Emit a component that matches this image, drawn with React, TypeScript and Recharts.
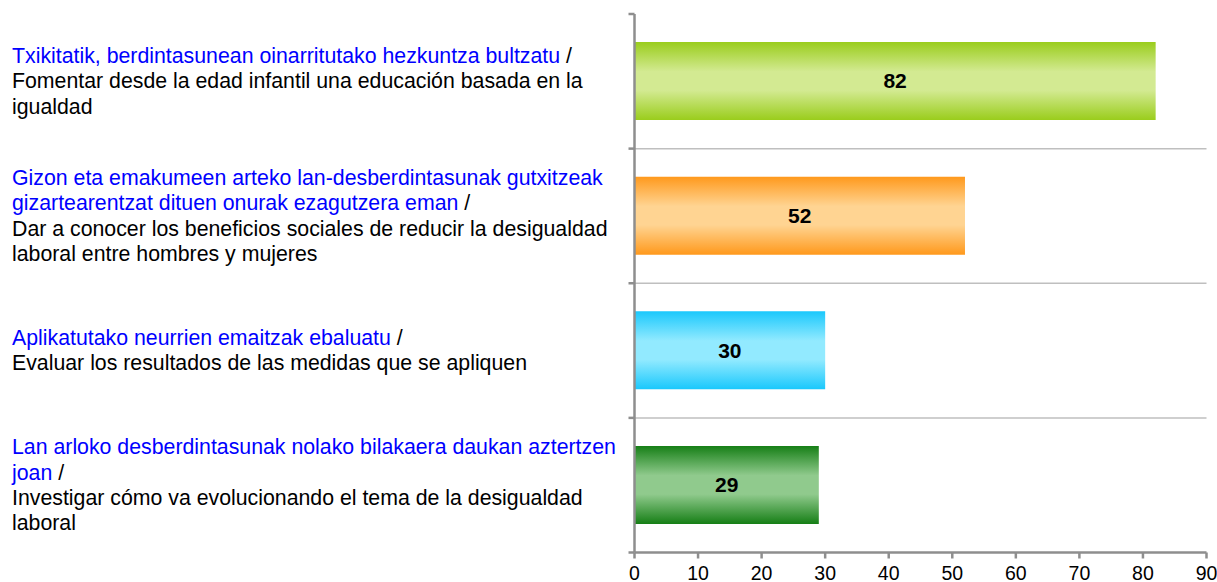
import React from 'react';
import { BarChart, Bar, XAxis, YAxis, CartesianGrid, Cell, LabelList } from 'recharts';

const categories = ['c1', 'c2', 'c3', 'c4'];
const values = [82, 52, 30, 29];
const basqueLines: string[][] = [
  ['Txikitatik, berdintasunean oinarritutako hezkuntza bultzatu'],
  ['Gizon eta emakumeen arteko lan-desberdintasunak gutxitzeak', 'gizartearentzat dituen onurak ezagutzera eman'],
  ['Aplikatutako neurrien emaitzak ebaluatu'],
  ['Lan arloko desberdintasunak nolako bilakaera daukan aztertzen', 'joan'],
];
const spanishLines: string[][] = [
  ['Fomentar desde la edad infantil una educación basada en la', 'igualdad'],
  ['Dar a conocer los beneficios sociales de reducir la desigualdad', 'laboral entre hombres y mujeres'],
  ['Evaluar los resultados de las medidas que se apliquen'],
  ['Investigar cómo va evolucionando el tema de la desigualdad', 'laboral'],
];
const xTicks = [0, 10, 20, 30, 40, 50, 60, 70, 80, 90];
const edgeColors = ['#9acd1c', '#ff991c', '#1ac8fc', '#167f16'];
const midColors = ['#d3ea92', '#ffd492', '#92eaff', '#90ca8d'];

const data = categories.map((c, i) => ({ name: c, value: values[i] }));

const FONT = '"Liberation Sans", Arial, sans-serif';
const AXIS = '#8e8e8e';

const CategoryTick = (props: any) => {
  const { x, y, payload } = props;
  const half = payload && payload.offset ? payload.offset : 67;
  const i = categories.indexOf(payload.value);
  const lines: { text: string; blue: boolean; slash: boolean }[] = [];
  const b = basqueLines[i] || [];
  b.forEach((t, k) => lines.push({ text: t, blue: true, slash: k === b.length - 1 }));
  (spanishLines[i] || []).forEach((t) => lines.push({ text: t, blue: false, slash: false }));
  const lh = 25.3;
  const startY = y - ((lines.length - 1) * lh) / 2 + 7;
  const isLast = i === categories.length - 1;
  return (
    <g>
      <line x1={x - 6} x2={x} y1={y - half} y2={y - half} stroke={AXIS} strokeWidth={2.5} />
      {isLast && <line x1={x - 6} x2={x} y1={y + half} y2={y + half} stroke={AXIS} strokeWidth={2.5} />}
      {lines.map((l, k) => (
        <text key={k} x={4} y={startY + k * lh} fontSize={21.3} fontFamily={FONT} fill="#000" textAnchor="start">
          <tspan fill={l.blue ? '#0000ff' : '#000'}>{l.text}</tspan>
          {l.slash && <tspan fill="#000"> /</tspan>}
        </text>
      ))}
    </g>
  );
};

const gridGen = (args: any) => {
  const { yAxis, offset } = args || {};
  try {
    if (yAxis && yAxis.scale && typeof yAxis.scale === 'function') {
      const pts = categories.slice(1).map((c) => yAxis.scale(c));
      if (pts.every((p: any) => typeof p === 'number' && !isNaN(p))) return pts;
    }
  } catch (e) {}
  const h = offset.height / categories.length;
  return categories.slice(1).map((_, k) => offset.top + (k + 1) * h);
};

export default function App() {
  return (
    <div
      style={{
        width: 1217,
        height: 582,
        padding: '8px 0 0 8px',
        boxSizing: 'border-box',
        overflow: 'visible',
        background: '#fff',
      }}
    >
      <style>{`body { margin: 0; } svg.recharts-surface { overflow: visible !important; } .recharts-wrapper { overflow: visible !important; } html, body { overflow: hidden; }`}</style>
      <BarChart
        width={1209}
        height={574}
        data={data}
        layout="vertical"
        margin={{ top: 6, right: 10.5, bottom: 0, left: 0 }}
        style={{ fontFamily: FONT, overflow: 'visible' }}
      >
        <defs>
          {categories.map((c, i) => (
            <linearGradient key={c} id={`grad-${i}`} x1="0" y1="0" x2="0" y2="1">
              <stop offset="0%" stopColor={edgeColors[i]} />
              <stop offset="38%" stopColor={midColors[i]} />
              <stop offset="62%" stopColor={midColors[i]} />
              <stop offset="100%" stopColor={edgeColors[i]} />
            </linearGradient>
          ))}
        </defs>
        <CartesianGrid
          vertical={false}
          horizontal={true}
          stroke="#bfbfbf"
          strokeWidth={1.5}
          horizontalCoordinatesGenerator={gridGen}
        />
        <XAxis
          type="number"
          domain={[0, 90]}
          ticks={xTicks}
          interval={0}
          height={29.5}
          tickSize={6}
          tickMargin={8}
          axisLine={{ stroke: AXIS, strokeWidth: 2.5 }}
          tickLine={{ stroke: AXIS, strokeWidth: 2.5 }}
          tick={{ fill: '#000', fontSize: 19.5, fontFamily: FONT }}
        />
        <YAxis
          type="category"
          dataKey="name"
          width={626.5}
          tickSize={0}
          tickMargin={0}
          tickLine={false}
          axisLine={{ stroke: AXIS, strokeWidth: 2.5 }}
          tick={<CategoryTick />}
          interval={0}
        />
        <Bar dataKey="value" barSize={78} isAnimationActive={false}>
          {data.map((d, i) => (
            <Cell key={d.name} fill={`url(#grad-${i})`} />
          ))}
          <LabelList dataKey="value" position="center" fill="#000" fontSize={21} fontWeight={700} fontFamily={FONT} />
        </Bar>
      </BarChart>
    </div>
  );
}
